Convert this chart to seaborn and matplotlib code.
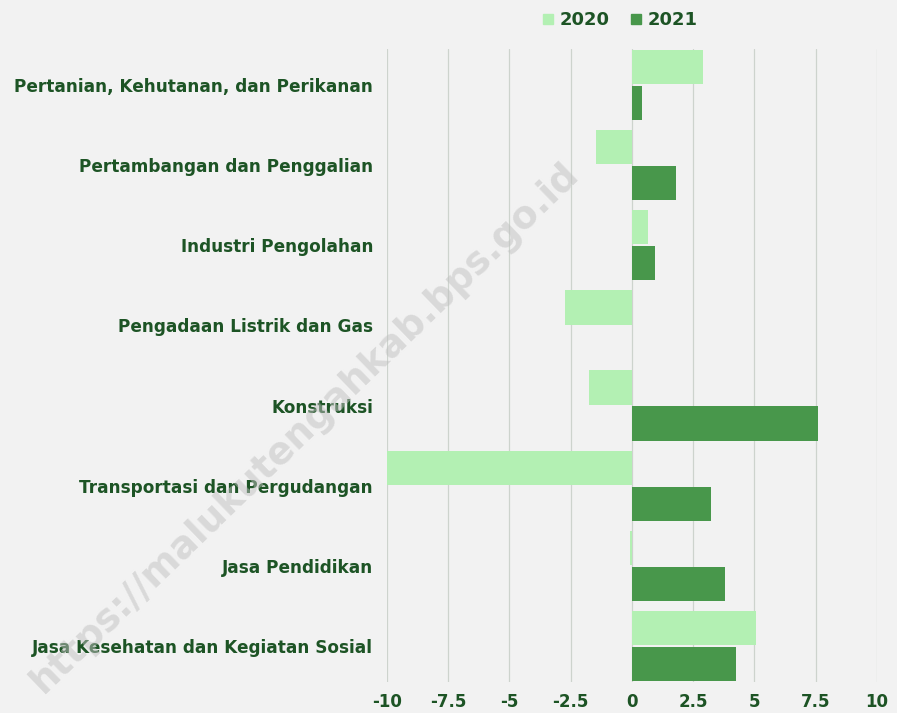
import matplotlib
matplotlib.use("Agg")
import matplotlib.pyplot as plt
import seaborn as sns
import pandas as pd

categories = [
    "Pertanian, Kehutanan, dan Perikanan",
    "Pertambangan dan Penggalian",
    "Industri Pengolahan",
    "Pengadaan Listrik dan Gas",
    "Konstruksi",
    "Transportasi dan Pergudangan",
    "Jasa Pendidikan",
    "Jasa Kesehatan dan Kegiatan Sosial",
]
growth_2020 = [2.88, -1.47, 0.65, -2.74, -1.75, -10.0, -0.1, 5.08]
growth_2021 = [0.41, 1.80, 0.93, 0.0, 7.58, 3.24, 3.80, 4.26]
years = ["2020", "2021"]
ticks = [-10, -7.5, -5, -2.5, 0, 2.5, 5, 7.5, 10]
tick_labels = ["-10", "-7.5", "-5", "-2.5", "0", "2.5", "5", "7.5", "10"]

df = pd.DataFrame({
    "kategori": categories * 2,
    "nilai": growth_2020 + growth_2021,
    "tahun": [years[0]] * len(categories) + [years[1]] * len(categories),
})

bg = "#f2f2f2"
text_green = "#1d5425"
palette = {"2020": "#b3f0b3", "2021": "#48974b"}

sns.set_style("white")
plt.rcParams["font.family"] = ["DejaVu Sans"]

fig = plt.figure(figsize=(8.97, 7.13), dpi=100, facecolor=bg)
ax = fig.add_axes([0.4314, 0.0435, 0.5463, 0.8878])
ax.set_facecolor(bg)

sns.barplot(data=df, y="kategori", x="nilai", hue="tahun", orient="h",
            palette=palette, saturation=1, width=0.9, gap=0.05, ax=ax,
            legend=False, linewidth=0, edgecolor="none", zorder=3)

ax.set_xlim(-10, 10)
ax.set_ylim(len(categories) - 1 + 0.45, -0.45)
ax.set_xticks(ticks)
ax.set_xticklabels(tick_labels)
ax.grid(axis="x", color="#cdd3cd", linewidth=0.9, zorder=0)
ax.grid(axis="y", visible=False)
for s in ax.spines.values():
    s.set_visible(False)
ax.set_xlabel("")
ax.set_ylabel("")
ax.tick_params(axis="x", length=0, pad=8, labelsize=12, labelcolor=text_green)
ax.tick_params(axis="y", length=0, pad=10, labelsize=12.2, labelcolor=text_green)
for lab in ax.get_xticklabels() + ax.get_yticklabels():
    lab.set_fontweight("heavy")

# legend
handles = [plt.Line2D([0], [0], marker="s", linestyle="", markersize=6.5,
                      color=palette[y]) for y in years]
leg = fig.legend(handles, years, loc="center", bbox_to_anchor=(0.691, 0.972),
                 ncol=2, frameon=False, handlelength=0.7, handletextpad=0.3,
                 columnspacing=1.1, prop={"weight": "heavy", "size": 13})
for t in leg.get_texts():
    t.set_color(text_green)

# watermark
fig.text(0.34, 0.40, "https://malukutengahkab.bps.go.id", rotation=44,
         ha="center", va="center", fontsize=27, fontweight="bold",
         color="#c0c0c0", alpha=0.5, zorder=10)

fig.savefig("out.png", dpi=100, facecolor=bg)
